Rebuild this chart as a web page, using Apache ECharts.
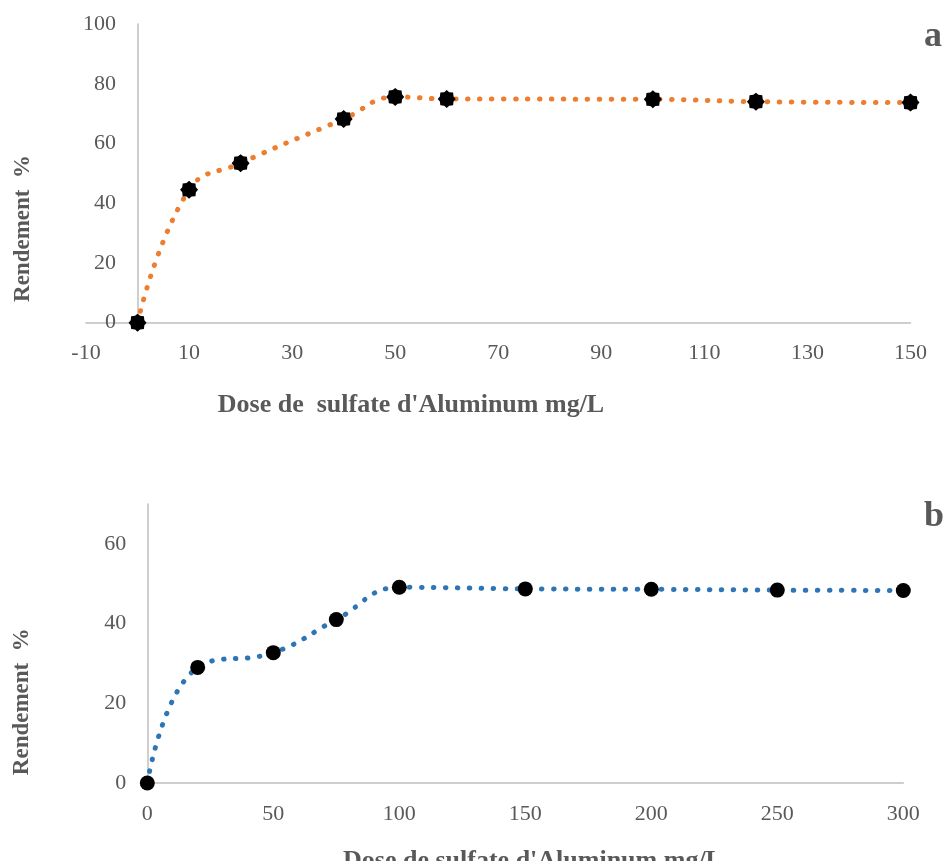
<!DOCTYPE html>
<html>
<head>
<meta charset="utf-8">
<script src="https://cdn.jsdelivr.net/npm/echarts@6/dist/echarts.min.js"></script>
<style>
html,body{margin:0;padding:0;background:#fff;}
#chart{width:945px;height:861px;}
</style>
</head>
<body>
<div id="chart"></div>
<script>
// ---- Data (chart a) ----
const doseA = [0, 10, 20, 40, 50, 60, 100, 120, 150];
const rendementA = [0, 44.5, 53.4, 68.2, 75.6, 74.9, 74.8, 74.0, 73.7];
// ---- Data (chart b) ----
const doseB = [0, 20, 50, 75, 100, 150, 200, 250, 300];
const rendementB = [0, 29.0, 32.7, 41.0, 49.1, 48.7, 48.6, 48.4, 48.3];

const xTitleA = "Dose de  sulfate d'Aluminum mg/L";
const xTitleB = "Dose de sulfate d'Aluminum mg/L";
const yTitle = "Rendement  %";
const panelA = "a";
const panelB = "b";

const FONT = "'Times New Roman', 'Liberation Serif', serif";
const GRAY = '#595959';
const AXIS = '#BFBFBF';

const blob = 'path://M100,50 L88,64 L85.36,85.36 L64,88 L50,100 L36,88 L14.64,85.36 L12,64 L0,50 L12,36 L14.64,14.64 L36,12 L50,0 L64,12 L85.36,14.64 L88,36 Z';

function pairs(xs, ys){ return xs.map((x,i)=>[x, ys[i]]); }

const axisLabel = {color: GRAY, fontSize: 22, fontFamily: FONT};
const chart = echarts.init(document.getElementById('chart'), null, {renderer:'canvas'});

chart.setOption({
  animation: false,
  backgroundColor: '#fff',
  grid: [
    {left: 86, top: 24, width: 824.5, height: 298.7},
    {left: 147.3, top: 504, width: 756, height: 279}
  ],
  xAxis: [
    {type:'value', gridIndex:0, min:-10, max:150, interval:20,
     axisLine:{show:true, onZero:true, lineStyle:{color:AXIS, width:1.5}},
     axisTick:{show:false}, splitLine:{show:false},
     axisLabel:Object.assign({margin:20}, axisLabel)},
    {type:'value', gridIndex:1, min:0, max:300, interval:50,
     axisLine:{show:true, lineStyle:{color:AXIS, width:1.5}},
     axisTick:{show:false}, splitLine:{show:false},
     axisLabel:Object.assign({margin:20}, axisLabel)}
  ],
  yAxis: [
    {type:'value', gridIndex:0, min:0, max:100, interval:20,
     axisLine:{show:true, onZero:true, lineStyle:{color:AXIS, width:1.5}},
     axisTick:{show:false}, splitLine:{show:false},
     axisLabel:Object.assign({margin:-30}, axisLabel)},
    {type:'value', gridIndex:1, min:0, max:70, interval:20,
     axisLine:{show:true, lineStyle:{color:AXIS, width:1.5}},
     axisTick:{show:false}, splitLine:{show:false},
     axisLabel:Object.assign({margin:21, showMaxLabel:false}, axisLabel)}
  ],
  series: [
    {type:'line', xAxisIndex:0, yAxisIndex:0, data: pairs(doseA, rendementA),
     smooth:0.45, symbol: blob, symbolSize:18,
     itemStyle:{color:'#000'},
     lineStyle:{color:'#ED7D31', width:5, type:[0.5, 11.5], cap:'round'}},
    {type:'line', xAxisIndex:1, yAxisIndex:1, data: pairs(doseB, rendementB),
     smooth:0.45, symbol:'circle', symbolSize:15,
     itemStyle:{color:'#000'},
     lineStyle:{color:'#2E75B6', width:5, type:[0.5, 11.5], cap:'round'}}
  ],
  graphic: [
    {type:'text', x:411, y:405, style:{text:xTitleA, fill:GRAY, font:'bold 26px '+FONT, align:'center', verticalAlign:'middle'}},
    {type:'text', x:533, y:861, style:{text:xTitleB, fill:GRAY, font:'bold 26px '+FONT, align:'center', verticalAlign:'middle'}},
    {type:'text', x:23, y:228.5, rotation:Math.PI/2, style:{text:yTitle, fill:GRAY, font:'bold 23px '+FONT, align:'center', verticalAlign:'middle'}},
    {type:'text', x:22, y:701.7, rotation:Math.PI/2, style:{text:yTitle, fill:GRAY, font:'bold 23px '+FONT, align:'center', verticalAlign:'middle'}},
    {type:'text', x:933, y:37, style:{text:panelA, fill:GRAY, font:'bold 36px '+FONT, align:'center', verticalAlign:'middle'}},
    {type:'text', x:934, y:517, style:{text:panelB, fill:GRAY, font:'bold 36px '+FONT, align:'center', verticalAlign:'middle'}}
  ]
});
</script>
</body>
</html>
